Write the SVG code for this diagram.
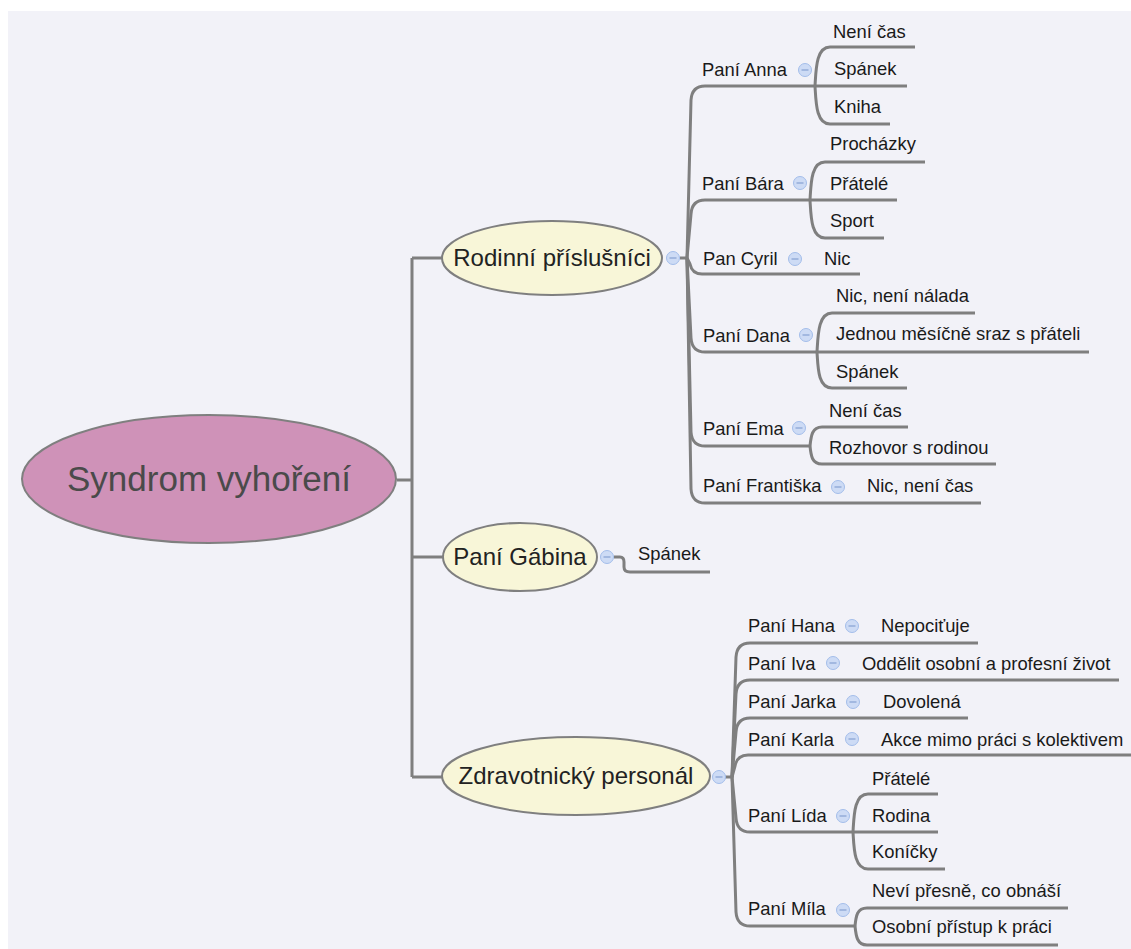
<svg xmlns="http://www.w3.org/2000/svg" width="1131" height="949" viewBox="0 0 1131 949">
  <style>
    .ln { fill: none; stroke: #7f7f7f; stroke-width: 3; stroke-linecap: butt; stroke-linejoin: round; }
    .t { font-family: "Liberation Sans", Arial, sans-serif; font-size: 18.4px; fill: #1a1a1a; }
    .h { font-family: "Liberation Sans", Arial, sans-serif; font-size: 24px; fill: #222; text-anchor: middle; }
    .root { font-family: "Liberation Sans", Arial, sans-serif; font-size: 35px; fill: #4a4a4a; text-anchor: middle; }
    .topic { fill: #f8f6d8; stroke: #7f7f7f; stroke-width: 2; }
    .col circle { fill: #cddbf5; stroke: #a3bdea; stroke-width: 1; }
    .col line { stroke: #8ba6d4; stroke-width: 1.3; }
  </style>
  <defs>
    <g id="collapse" class="col">
      <circle cx="0" cy="0" r="6.5"/>
      <line x1="-3.5" y1="0" x2="3.5" y2="0"/>
    </g>
  </defs>

  <rect x="0" y="0" width="1131" height="949" fill="#ffffff"/>
  <rect x="8" y="11" width="1123" height="938" fill="#f2f2f8"/>

  <!-- connectors -->
  <g id="connectors">
    <!-- root to main topics -->
    <path class="ln" d="M 397 480 H 412 M 412 258 V 777 M 412 258 H 442 M 412 557 H 443 M 412 777 H 442"/>

    <!-- Rodinní příslušníci -> people -->
    <path class="ln" d="M 680 258 H 687 L 691 100 Q 692 86 705 86 H 815"/>
    <path class="ln" d="M 687 258 L 691 214 Q 692 200 705 200 H 810"/>
    <path class="ln" d="M 687 258 L 690 264 Q 692 274 702 274 H 860"/>
    <path class="ln" d="M 687 258 L 691 338 Q 692 352 705 352 H 817"/>
    <path class="ln" d="M 687 258 L 691 432 Q 692 446 705 446 H 810"/>
    <path class="ln" d="M 687 258 L 691 489 Q 692 503 705 503 H 981"/>

    <!-- Paní Anna -->
    <path class="ln" d="M 815 86 C 816 70 816 47 830 47 H 915"/>
    <path class="ln" d="M 815 86 H 907"/>
    <path class="ln" d="M 815 86 C 816 102 816 124 830 124 H 890"/>
    <!-- Paní Bára -->
    <path class="ln" d="M 810 200 C 811 184 811 162 825 162 H 925"/>
    <path class="ln" d="M 810 200 H 897"/>
    <path class="ln" d="M 810 200 C 811 216 811 238 825 238 H 884"/>
    <!-- Paní Dana -->
    <path class="ln" d="M 817 352 C 818 336 818 313 832 313 H 975"/>
    <path class="ln" d="M 817 352 H 1089"/>
    <path class="ln" d="M 817 352 C 818 368 818 388 832 388 H 907"/>
    <!-- Paní Ema -->
    <path class="ln" d="M 810 446 C 811 436 812 427 822 427 H 908"/>
    <path class="ln" d="M 810 446 C 811 456 812 464 822 464 H 996"/>

    <!-- Paní Gábina -->
    <path class="ln" d="M 614 557 H 620 Q 624 557 624 562 V 567 Q 624 572 630 572 H 710"/>

    <!-- Zdravotnický personál -> people -->
    <path class="ln" d="M 725 777 H 732 L 736 657 Q 737 643 750 643 H 978"/>
    <path class="ln" d="M 732 777 L 736 694 Q 737 680 750 680 H 1119"/>
    <path class="ln" d="M 732 777 L 736 732 Q 737 718 750 718 H 968"/>
    <path class="ln" d="M 732 777 L 735 766 Q 737 755 748 755 H 1131"/>
    <path class="ln" d="M 732 777 L 736 818 Q 737 832 750 832 H 853"/>
    <path class="ln" d="M 732 777 L 736 912 Q 737 926 750 926 H 855"/>

    <!-- Paní Lída -->
    <path class="ln" d="M 853 832 C 854 816 854 794 868 794 H 938"/>
    <path class="ln" d="M 853 832 H 938"/>
    <path class="ln" d="M 853 832 C 854 848 854 869 868 869 H 945"/>
    <!-- Paní Míla -->
    <path class="ln" d="M 855 926 C 856 916 857 908 867 908 H 1068"/>
    <path class="ln" d="M 855 926 C 856 936 857 945 867 945 H 1058"/>
  </g>

  <!-- central topic -->
  <g id="root">
    <ellipse cx="209" cy="479" rx="187" ry="64" fill="#cf92b8" stroke="#7f7f7f" stroke-width="2"/>
    <text class="root" x="209" y="491">Syndrom vyhoření</text>
  </g>

  <!-- main topics -->
  <g id="rodinni">
    <ellipse class="topic" cx="552" cy="258" rx="110" ry="37"/>
    <text class="h" x="552" y="266">Rodinní příslušníci</text>
    <use href="#collapse" x="673" y="258"/>
  </g>
  <g id="gabina">
    <ellipse class="topic" cx="520" cy="557" rx="77" ry="34"/>
    <text class="h" x="520" y="565">Paní Gábina</text>
    <use href="#collapse" x="607" y="557"/>
  </g>
  <g id="zdravotnicky">
    <ellipse class="topic" cx="576" cy="776" rx="134" ry="39"/>
    <text class="h" x="576" y="784">Zdravotnický personál</text>
    <use href="#collapse" x="719" y="777"/>
  </g>

  <!-- family members -->
  <g id="anna">
    <text class="t" x="702" y="76">Paní Anna</text>
    <use href="#collapse" x="805" y="70"/>
  </g>
  <g id="anna-1"><text class="t" x="833" y="38">Není čas</text></g>
  <g id="anna-2"><text class="t" x="834" y="75">Spánek</text></g>
  <g id="anna-3"><text class="t" x="834" y="113">Kniha</text></g>

  <g id="bara">
    <text class="t" x="702" y="190">Paní Bára</text>
    <use href="#collapse" x="800" y="183"/>
  </g>
  <g id="bara-1"><text class="t" x="830" y="150">Procházky</text></g>
  <g id="bara-2"><text class="t" x="830" y="190">Přátelé</text></g>
  <g id="bara-3"><text class="t" x="830" y="227">Sport</text></g>

  <g id="cyril">
    <text class="t" x="703" y="265">Pan Cyril</text>
    <use href="#collapse" x="795" y="259"/>
  </g>
  <g id="cyril-1"><text class="t" x="824" y="265">Nic</text></g>

  <g id="dana">
    <text class="t" x="703" y="342">Paní Dana</text>
    <use href="#collapse" x="806" y="335"/>
  </g>
  <g id="dana-1"><text class="t" x="836" y="302">Nic, není nálada</text></g>
  <g id="dana-2"><text class="t" x="836" y="340">Jednou měsíčně sraz s přáteli</text></g>
  <g id="dana-3"><text class="t" x="836" y="378">Spánek</text></g>

  <g id="ema">
    <text class="t" x="703" y="435">Paní Ema</text>
    <use href="#collapse" x="799" y="428"/>
  </g>
  <g id="ema-1"><text class="t" x="829" y="417">Není čas</text></g>
  <g id="ema-2"><text class="t" x="829" y="454">Rozhovor s rodinou</text></g>

  <g id="frantiska">
    <text class="t" x="703" y="492">Paní Františka</text>
    <use href="#collapse" x="838" y="487"/>
  </g>
  <g id="frantiska-1"><text class="t" x="867" y="492">Nic, není čas</text></g>

  <!-- Paní Gábina leaf -->
  <g id="gabina-1"><text class="t" x="638" y="560">Spánek</text></g>

  <!-- healthcare staff -->
  <g id="hana">
    <text class="t" x="748" y="632">Paní Hana</text>
    <use href="#collapse" x="852" y="626"/>
  </g>
  <g id="hana-1"><text class="t" x="881" y="632">Nepociťuje</text></g>

  <g id="iva">
    <text class="t" x="748" y="670">Paní Iva</text>
    <use href="#collapse" x="833" y="663"/>
  </g>
  <g id="iva-1"><text class="t" x="862" y="670">Oddělit osobní a profesní život</text></g>

  <g id="jarka">
    <text class="t" x="748" y="708">Paní Jarka</text>
    <use href="#collapse" x="853" y="702"/>
  </g>
  <g id="jarka-1"><text class="t" x="883" y="708">Dovolená</text></g>

  <g id="karla">
    <text class="t" x="748" y="746">Paní Karla</text>
    <use href="#collapse" x="852" y="739"/>
  </g>
  <g id="karla-1"><text class="t" x="881" y="746">Akce mimo práci s kolektivem</text></g>

  <g id="lida">
    <text class="t" x="748" y="822">Paní Lída</text>
    <use href="#collapse" x="843" y="816"/>
  </g>
  <g id="lida-1"><text class="t" x="872" y="785">Přátelé</text></g>
  <g id="lida-2"><text class="t" x="872" y="822">Rodina</text></g>
  <g id="lida-3"><text class="t" x="872" y="858">Koníčky</text></g>

  <g id="mila">
    <text class="t" x="748" y="915">Paní Míla</text>
    <use href="#collapse" x="843" y="910"/>
  </g>
  <g id="mila-1"><text class="t" x="872" y="897">Neví přesně, co obnáší</text></g>
  <g id="mila-2"><text class="t" x="872" y="933">Osobní přístup k práci</text></g>
</svg>
